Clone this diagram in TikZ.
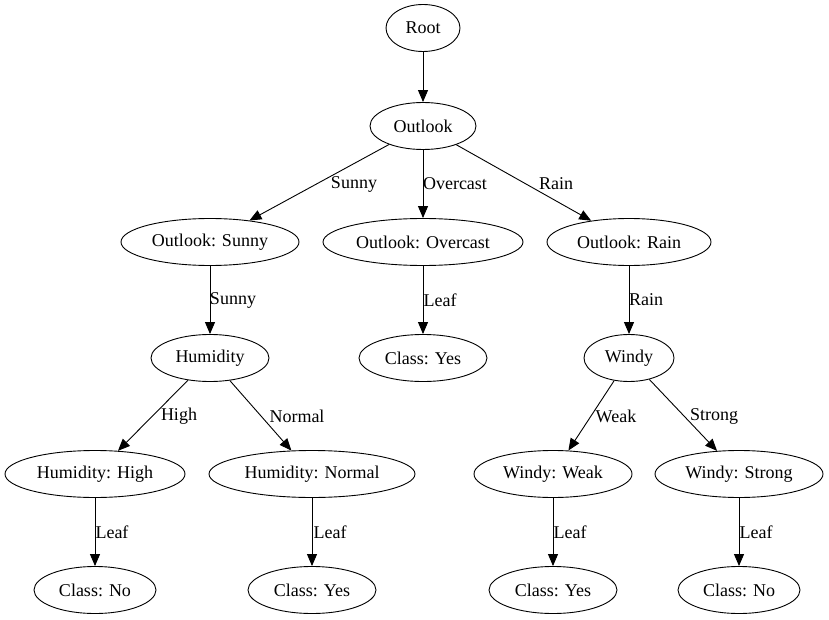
\documentclass[tikz,border=0pt]{standalone}
\usepackage{fontspec}
\setmainfont{Liberation Serif}
\usetikzlibrary{shapes.geometric,arrows.meta}
\begin{document}
\begin{tikzpicture}[x=1pt,y=-1pt,
  nd/.style={draw,ellipse,inner sep=0pt,minimum height=47,line width=0.9pt,font=\fontsize{18}{22}\selectfont},
  ed/.style={draw,line width=0.9pt,-{Triangle[length=12pt,width=10pt]}},
  lb/.style={font=\fontsize{18}{22}\selectfont,inner sep=0pt}]
\useasboundingbox (0,0) rectangle (829,620);
\node[nd,minimum width=74] (root) at (423,28) {Root};
\node[nd,minimum width=106] (out) at (423,126) {Outlook};
\node[nd,minimum width=178] (os) at (210,242) {Outlook: Sunny};
\node[nd,minimum width=200] (oo) at (423,242) {Outlook: Overcast};
\node[nd,minimum width=164] (or) at (629,242) {Outlook: Rain};
\node[nd,minimum width=118] (hum) at (210,358) {Humidity};
\node[nd,minimum width=128] (cy1) at (423,358) {Class: Yes};
\node[nd,minimum width=90] (win) at (629,358) {Windy};
\node[nd,minimum width=180] (hh) at (95,474) {Humidity: High};
\node[nd,minimum width=206] (hn) at (312,474) {Humidity: Normal};
\node[nd,minimum width=158] (ww) at (553,474) {Windy: Weak};
\node[nd,minimum width=168] (ws) at (739,474) {Windy: Strong};
\node[nd,minimum width=122] (cn1) at (95,590) {Class: No};
\node[nd,minimum width=128] (cy2) at (312,590) {Class: Yes};
\node[nd,minimum width=128] (cy3) at (553,590) {Class: Yes};
\node[nd,minimum width=122] (cn2) at (739,590) {Class: No};
\draw[ed] (root) -- (out);
\draw[ed] (out) -- (os);
\draw[ed] (out) -- (oo);
\draw[ed] (out) -- (or);
\draw[ed] (os) -- (hum);
\draw[ed] (oo) -- (cy1);
\draw[ed] (or) -- (win);
\draw[ed] (hum) -- (hh);
\draw[ed] (hum) -- (hn);
\draw[ed] (win) -- (ww);
\draw[ed] (win) -- (ws);
\draw[ed] (hh) -- (cn1);
\draw[ed] (hn) -- (cy2);
\draw[ed] (ww) -- (cy3);
\draw[ed] (ws) -- (cn2);
\node[lb] (l1) at (354,184) {Sunny};
\node[lb] (l2) at (455,184) {Overcast};
\node[lb] (l3) at (556,184) {Rain};
\node[lb] (l4) at (233,300) {Sunny};
\node[lb] (l5) at (440,300) {Leaf};
\node[lb] (l6) at (646,300) {Rain};
\node[lb] (l7) at (179,416) {High};
\node[lb] (l8) at (297,416) {Normal};
\node[lb] (l9) at (616,416) {Weak};
\node[lb] (l10) at (714,416) {Strong};
\node[lb] (l11) at (112,532) {Leaf};
\node[lb] (l12) at (330,532) {Leaf};
\node[lb] (l13) at (570,532) {Leaf};
\node[lb] (l14) at (756,532) {Leaf};
\end{tikzpicture}
\end{document}
